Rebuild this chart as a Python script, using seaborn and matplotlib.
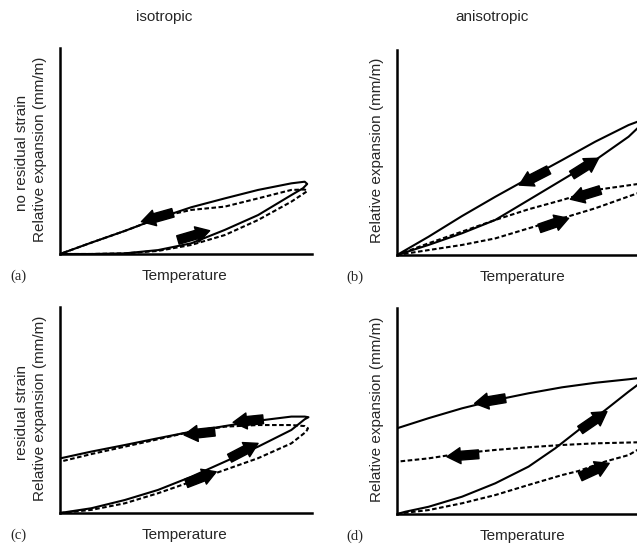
import matplotlib
matplotlib.use("Agg")
import matplotlib.pyplot as plt
import seaborn as sns
import pandas as pd

# ---------------- data (normalised units: Temperature 0-100, Expansion 0-100) -------------
# Panel (a) isotropic, no residual strain  (heating branch, then cooling branch)
a_solid_x = [0, 12.4, 25.7, 38.9, 52.1, 65.4, 78.6, 91.8, 96.4, 98.1, 97.1, 91.8, 78.6, 65.4, 52.1, 38.9, 25.7, 12.4, 0]
a_solid_y = [0, 0.0, 0.3, 1.9, 5.2, 11.7, 18.9, 28.6, 31.9, 34.0, 35.1, 34.3, 31.1, 27.0, 22.7, 17.3, 11.2, 5.5, 0]
a_dash_x = [0, 12.4, 25.7, 38.9, 52.1, 65.4, 78.6, 91.8, 98.1, 97.1, 91.8, 78.6, 65.4, 52.1, 42.9, 38.9, 25.7, 12.4, 0]
a_dash_y = [0, 0.0, 0.3, 1.5, 4.4, 9.2, 16.5, 25.4, 30.5, 31.3, 31.1, 27.0, 23.0, 21.4, 18.9, 17.3, 11.2, 5.5, 0]
a_arrow_tail_x = [44.8, 46.8]
a_arrow_tail_y = [20.0, 6.8]
a_arrow_head_x = [32.3, 59.4]
a_arrow_head_y = [15.7, 11.3]

# Panel (b) anisotropic, no residual strain
b_solid_x = [0, 12.5, 25.8, 39.0, 52.2, 65.5, 78.7, 91.9, 95.4, 104, 95.4, 91.9, 78.7, 65.5, 52.2, 39.0, 25.8, 12.5, 0]
b_solid_y = [0, 4.9, 10.6, 17.1, 26.8, 36.6, 46.3, 57.7, 61.8, 70, 65.0, 63.4, 55.3, 46.3, 37.4, 28.4, 19.0, 8.9, 0]
b_dash_x = [0, 12.5, 25.8, 39.0, 52.2, 65.5, 78.7, 95.4, 105, 95.4, 78.7, 65.5, 52.2, 39.0, 25.8, 12.5, 0]
b_dash_y = [0, 2.4, 4.9, 8.1, 13.0, 17.9, 22.8, 30.1, 37, 34.6, 31.7, 26.8, 22.3, 17.1, 11.4, 5.7, 0]
b_arrow_tail_x = [60.2, 69.4, 80.7, 56.5]
b_arrow_tail_y = [41.5, 39.0, 31.7, 13.0]
b_arrow_head_x = [48.5, 80.0, 68.8, 68.1]
b_arrow_head_y = [34.1, 47.2, 27.2, 17.9]

# Panel (c) isotropic, residual strain
c_solid_x = [0, 12.4, 25.7, 38.9, 52.1, 65.4, 78.6, 91.8, 97.1, 98.6, 97.1, 91.8, 78.6, 65.4, 52.1, 38.9, 25.7, 12.4, 0]
c_solid_y = [0, 2.3, 6.3, 11.2, 17.6, 24.9, 32.2, 40.3, 45.5, 46.5, 46.8, 46.8, 44.8, 42.2, 39.5, 36.3, 33.0, 29.8, 26.5]
c_dash_x = [0, 12.4, 25.7, 38.9, 52.1, 65.4, 78.6, 91.8, 97.7, 98.4, 97.1, 91.8, 78.6, 65.4, 52.1, 38.9, 25.7, 12.4, 0]
c_dash_y = [0, 1.5, 4.7, 9.6, 15.2, 20.9, 26.6, 33.8, 39.5, 41.1, 42.2, 42.7, 42.7, 41.9, 39.5, 35.8, 32.2, 28.6, 24.9]
c_arrow_tail_x = [61.4, 80.6, 67.3, 50.1]
c_arrow_tail_y = [39.5, 45.5, 26.6, 14.4]
c_arrow_head_x = [49.2, 68.7, 78.6, 62.0]
c_arrow_head_y = [37.9, 44.0, 33.8, 20.0]

# Panel (d) anisotropic, residual strain
d_solid_x = [0, 3.3, 12.5, 25.8, 39.0, 52.2, 62.8, 72.1, 82.7, 91.9, 95.4, 99.8, 95.4, 91.9, 78.7, 65.5, 52.2, 39.0, 25.8, 12.5, 0]
d_solid_y = [0, 1.1, 3.5, 8.4, 14.9, 23.0, 31.9, 40.8, 50.5, 59.4, 62.6, 66.5, 65.9, 65.4, 63.7, 61.5, 58.6, 55.3, 51.3, 46.5, 41.6]
d_dash_x = [0, 3.3, 12.5, 25.8, 39.0, 52.2, 65.5, 72.1, 82.7, 91.9, 95.4, 101, 95.4, 78.7, 65.5, 52.2, 39.0, 25.8, 12.5, 0]
d_dash_y = [0, 0.6, 1.9, 5.2, 9.2, 14.1, 18.9, 20.9, 25.5, 28.6, 31.1, 35.0, 34.8, 34.3, 33.5, 32.4, 31.1, 29.5, 27.0, 25.4]
d_arrow_tail_x = [43.0, 32.4, 72.7, 72.7]
d_arrow_tail_y = [56.2, 29.0, 40.8, 18.1]
d_arrow_head_x = [30.8, 19.8, 83.3, 84.2]
d_arrow_head_y = [53.7, 27.8, 49.7, 24.6]

column_titles = ["isotropic", "anisotropic"]
row_titles = ["no residual strain", "residual strain"]
panel_tags = ["(a)", "(b)", "(c)", "(d)"]
x_label = "Temperature"
y_label = "Relative expansion (mm/m)"

# ---------------- figure -------------
sns.set_style("white")
plt.rcParams["font.family"] = ["Liberation Sans", "DejaVu Sans"]

W, H = 637, 545
fig = plt.figure(figsize=(W / 100, H / 100), dpi=100)


def fx(px):
    return px / W


def fy(py):
    return 1 - py / H


# axes boxes in pixels: left, top, right, bottom
boxes = [(60, 48, 312, 254), (397, 50, 649, 255), (60, 307, 312, 513), (397, 308, 649, 514)]
panels = [
    (a_solid_x, a_solid_y, a_dash_x, a_dash_y, a_arrow_tail_x, a_arrow_tail_y, a_arrow_head_x, a_arrow_head_y),
    (b_solid_x, b_solid_y, b_dash_x, b_dash_y, b_arrow_tail_x, b_arrow_tail_y, b_arrow_head_x, b_arrow_head_y),
    (c_solid_x, c_solid_y, c_dash_x, c_dash_y, c_arrow_tail_x, c_arrow_tail_y, c_arrow_head_x, c_arrow_head_y),
    (d_solid_x, d_solid_y, d_dash_x, d_dash_y, d_arrow_tail_x, d_arrow_tail_y, d_arrow_head_x, d_arrow_head_y),
]

for i, ((l, t, r, b), pdata) in enumerate(zip(boxes, panels)):
    sx, sy, dx, dy, tx, ty, hx, hy = pdata
    ax = fig.add_axes([fx(l), fy(b), (r - l) / W, (b - t) / H])
    ax.set_xlim(0, 100)
    ax.set_ylim(0, 100)
    df_s = pd.DataFrame({"Temperature": sx, "Expansion": sy})
    df_d = pd.DataFrame({"Temperature": dx, "Expansion": dy})
    sns.lineplot(data=df_s, x="Temperature", y="Expansion", ax=ax, sort=False,
                 estimator=None, color="black", lw=1.5, solid_joinstyle="round")
    sns.lineplot(data=df_d, x="Temperature", y="Expansion", ax=ax, sort=False,
                 estimator=None, color="black", lw=1.5, linestyle=(0, (2.2, 1.2)))
    for x0, y0, x1, y1 in zip(tx, ty, hx, hy):
        ax.annotate("", xy=(x1, y1), xytext=(x0, y0),
                    arrowprops=dict(arrowstyle="simple,head_length=0.85,head_width=1.0,tail_width=0.55",
                                    color="black", shrinkA=0, shrinkB=0, mutation_scale=11.5))
    ax.set_xlabel("")
    ax.set_ylabel("")
    ax.set_xticks([])
    ax.set_yticks([])
    sns.despine(ax=ax)
    for sp in ("left", "bottom"):
        ax.spines[sp].set_linewidth(1.8)
        ax.spines[sp].set_color("black")
    ax.patch.set_alpha(0)

    fig.text(fx(l + 125), fy(b + 22), x_label, ha="center", va="center", fontsize=11)
    fig.text(fx(l - 20), fy((t + b) / 2 - 2), y_label, ha="center", va="center",
             rotation=90, fontsize=11)
    fig.text(fx(l - 42), fy(b + 22), panel_tags[i], ha="center", va="center",
             fontsize=10.5, family=["Liberation Serif", "DejaVu Serif"])

fig.text(fx(164), fy(17), column_titles[0], ha="center", va="center", fontsize=11)
fig.text(fx(492), fy(17), column_titles[1], ha="center", va="center", fontsize=11)
fig.text(fx(22), fy(153), row_titles[0], ha="center", va="center", rotation=90, fontsize=11)
fig.text(fx(22), fy(412), row_titles[1], ha="center", va="center", rotation=90, fontsize=11)

fig.savefig("out.png", dpi=100)
